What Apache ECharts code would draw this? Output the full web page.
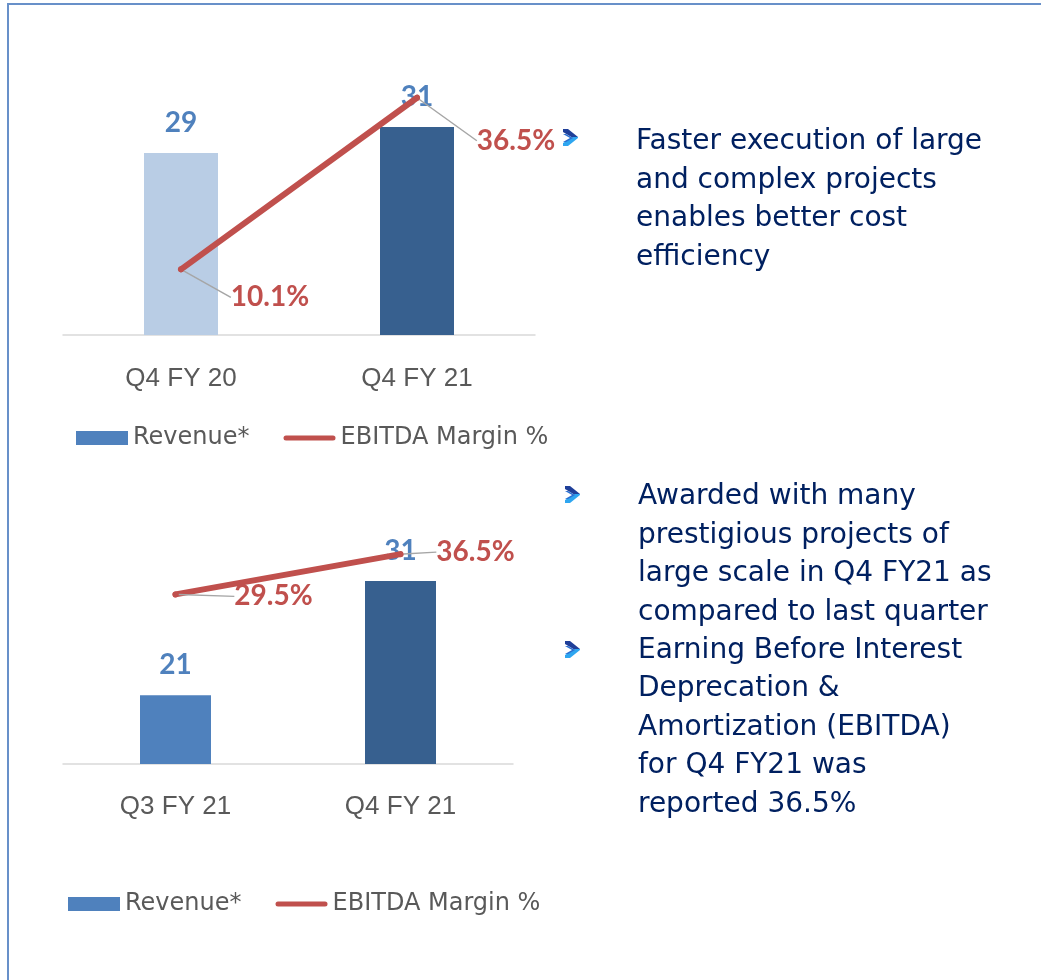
<!DOCTYPE html>
<html>
<head>
<meta charset="utf-8">
<script src="https://cdn.jsdelivr.net/npm/echarts@6/dist/echarts.min.js"></script>
<style>
html,body{margin:0;padding:0;background:#fff;}
#main{width:1041px;height:980px;}
</style>
</head>
<body>
<div id="main"></div>
<script>
// ---- data ----
const cats1 = ['Q4 FY 20', 'Q4 FY 21'];
const revenue1 = [29, 31];
const margin1 = [10.1, 36.5];
const cats2 = ['Q3 FY 21', 'Q4 FY 21'];
const revenue2 = [21, 31];
const margin2 = [29.5, 36.5];
const legendNames = ['Revenue*', 'EBITDA Margin %'];
const text1 = ['Faster execution of large', 'and complex projects', 'enables better cost', 'efficiency'];
const text2 = ['Awarded with many', 'prestigious projects of', 'large scale in Q4 FY21 as',
  'compared to last quarter', 'Earning Before Interest', 'Deprecation &',
  'Amortization (EBITDA)', 'for Q4 FY21 was', 'reported 36.5%'];

// ---- styles ----
const barColors1 = ['#b9cde5', '#37608f'];
const barColors2 = ['#4f81bd', '#37608f'];
const labelOffsets1 = [[89, 28], [99, 43]];
const labelOffsets2 = [[98, 2], [75, -2]];

const chart = echarts.init(document.getElementById('main'), null, {renderer: 'canvas'});

function barSeries(values, colors, xi, yi) {
  return {
    name: legendNames[0], type: 'bar', xAxisIndex: xi, yAxisIndex: yi,
    barWidth: xi === 0 ? 74 : 71,
    itemStyle: {color: '#4f81bd'},
    data: values.map((v, i) => ({value: v, itemStyle: {color: colors[i]}})),
    label: {show: true, position: 'top', distance: 16, color: '#4f81bd',
      fontFamily: 'Lato', fontWeight: 'bold', fontSize: 28},
    z: 2
  };
}
function lineSeries(values, offsets, xi, yi) {
  return {
    name: legendNames[1], type: 'line', xAxisIndex: xi, yAxisIndex: yi,
    data: values, symbol: 'circle', symbolSize: 6,
    itemStyle: {color: '#c0504d'},
    lineStyle: {color: '#c0504d', width: 6, cap: 'round'},
    label: {show: true, position: 'inside', formatter: '{c}%', color: '#c0504d',
      fontFamily: 'Lato', fontWeight: 'bold', fontSize: 28},
    labelLine: {show: true, lineStyle: {color: '#a6a6a6', width: 1.5}},
    labelLayout: function (p) { return {dx: offsets[p.dataIndex][0], dy: offsets[p.dataIndex][1]}; },
    z: 3
  };
}
function xAx(cats, gi, margin) {
  return {
    type: 'category', gridIndex: gi, data: cats,
    axisLine: {lineStyle: {color: '#d9d9d9', width: 1.5}},
    axisTick: {show: false},
    axisLabel: {color: '#595959', fontFamily: 'Liberation Sans', fontSize: 26, margin: margin}
  };
}
function yAx(gi, min, max) {
  return {type: 'value', gridIndex: gi, min: min, max: max, show: false, splitLine: {show: false}};
}
function legendOf(left, top) {
  return {
    left: left, top: top,
    data: [
      {name: legendNames[0], icon: 'rect'},
      {name: legendNames[1], icon: 'path://M2.5,0 H49.5 A2.5,2.5 0 0 1 49.5,5 H2.5 A2.5,2.5 0 0 1 2.5,0 Z'}
    ],
    itemWidth: 52, itemHeight: 14, itemGap: 34, symbolKeepAspect: true,
    textStyle: {color: '#595959', fontFamily: 'DejaVu Sans', fontSize: 24},
    selectedMode: false
  };
}
function textBlock(lines, x, y) {
  return {
    type: 'text', left: x, top: y,
    style: {text: lines.join('\n'), fill: '#002060', font: '28px "DejaVu Sans"', lineHeight: 38.4}
  };
}
function chevron(x, y) {
  return {
    type: 'group', left: x, top: y, children: [
      {type: 'polygon', shape: {points: [[0, 0], [5, 0], [15, 8], [15, 9], [10, 9], [0, 3]]}, style: {fill: '#1f3f99'}},
      {type: 'polygon', shape: {points: [[0, 17], [5, 17], [15, 9], [15, 8], [10, 8], [0, 14]]}, style: {fill: '#2ea6f0'}},
      {type: 'polygon', shape: {points: [[0, 5], [3, 5], [10, 9], [3, 13], [0, 13], [7, 9]]}, style: {fill: '#2b6fd1'}}
    ]
  };
}

chart.setOption({
  animation: false,
  grid: [
    {left: 63, width: 472, top: 75, height: 260},
    {left: 63, width: 450, top: 534, height: 230}
  ],
  xAxis: [xAx(cats1, 0, 31), xAx(cats2, 1, 30)],
  yAxis: [yAx(0, 15, 35), yAx(0, 0, 40), yAx(1, 15, 35.1), yAx(1, 0, 40)],
  legend: [legendOf(71, 421), legendOf(63, 887)],
  series: [
    barSeries(revenue1, barColors1, 0, 0),
    lineSeries(margin1, labelOffsets1, 0, 1),
    barSeries(revenue2, barColors2, 1, 2),
    lineSeries(margin2, labelOffsets2, 1, 3)
  ],
  graphic: [
    {type: 'polyline', shape: {points: [[8, 980], [8, 4], [1041, 4]]}, style: {stroke: '#6890c9', lineWidth: 2, fill: null}},
    textBlock(text1, 636, 123),
    textBlock(text2, 638, 478),
    chevron(563, 129),
    chevron(565, 486),
    chevron(565, 641)
  ]
});
</script>
</body>
</html>
